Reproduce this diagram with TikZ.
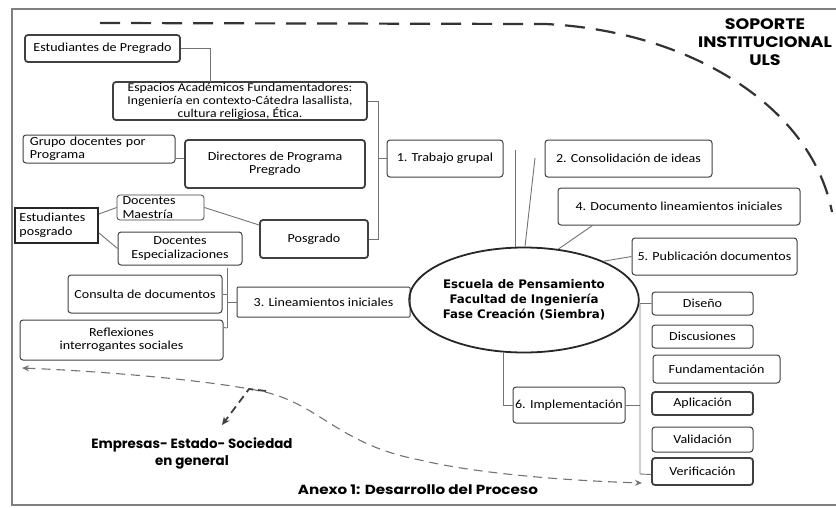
\documentclass[tikz,border=0pt]{standalone}
\usepackage{fontspec}
\setmainfont{Carlito}[FakeStretch=1.14]
\newfontfamily\labfont{Poppins}
\newfontfamily\labfontw{Poppins}[FakeStretch=1.15]
\newfontfamily\elfont{DejaVu Sans}
\usetikzlibrary{calc,arrows.meta,shapes.geometric}
\begin{document}
\begin{tikzpicture}[x=1pt,y=-1pt,
  box/.style={draw=black!75, line width=1pt, rounded corners=3pt, align=center, inner sep=1pt,
     font=\fontsize{12.3}{13.5}\selectfont},
  tbox/.style={box, line width=1.8pt},
  conn/.style={draw=black!55, line width=0.9pt},
  lab/.style={font=\labfont\bfseries\fontsize{13.4}{17}\selectfont, align=center, inner sep=0pt},
  dashbig/.style={draw=black!80, line width=2.2pt, dash pattern=on 20pt off 11pt},
  dashsmall/.style={draw=black!55, line width=1.1pt, dash pattern=on 9pt off 6pt}]
\path[use as bounding box] (0,0) rectangle (836,507);
% frame
\draw[black!50, line width=1.2pt] (836,9) -- (12,9) -- (12,505) -- (836,505);

% nodes, left part
\node[tbox, minimum width=155, minimum height=27] (estpre) at (102.5,48.5) {Estudiantes de Pregrado};
\node[tbox, minimum width=254, minimum height=38, inner sep=0pt, font=\fontsize{12}{13}\selectfont] (esp) at (240,101)
  {Espacios Académicos Fundamentadores:\\ Ingeniería en contexto-Cátedra lasallista,\\ cultura religiosa, Ética.};
\node[box, minimum width=152, minimum height=28, text width=138, align=left] (grupo) at (99,149) {Grupo docentes por\\Programa};
\node[tbox, minimum width=180, minimum height=48] (dir) at (275,164) {Directores de Programa\\ Pregrado};
\node[box, line width=0.8pt, minimum width=87, minimum height=25, text width=76, align=left] (docmae) at (160.5,207.5) {Docentes\\Maestría};
\node[draw=black!85, line width=2pt, minimum width=83, minimum height=35, text width=74, align=left, inner sep=1pt,
   font=\fontsize{12.3}{13.5}\selectfont] (estpos) at (56.5,225.5) {Estudiantes\\posgrado};
\node[box, minimum width=124, minimum height=33] (docesp) at (180,248.5) {Docentes\\Especializaciones};
\node[tbox, minimum width=108, minimum height=38] (posg) at (314,239) {Posgrado};

% numbered steps
\node[box, minimum width=116, minimum height=37] (t1) at (445,158.5) {1. Trabajo grupal};
\node[box, minimum width=167, minimum height=37] (t2) at (628.5,158.5) {2. Consolidación de ideas};
\node[box, minimum width=242, minimum height=37] (t4) at (679,206.5) {4. Documento lineamientos iniciales};
\node[box, minimum width=165, minimum height=37] (t5) at (714.5,256.5) {5. Publicación documentos};
\node[box, rounded corners=1pt, minimum width=173, minimum height=30] (t3) at (323.5,302) {3. Lineamientos iniciales};
\node[box, minimum width=154, minimum height=38] (cons) at (145,294) {Consulta de documentos};
\node[box, minimum width=203, minimum height=40] (refl) at (121.5,340) {Reflexiones\\ interrogantes sociales};

% centre ellipse
\node[ellipse, draw=black!85, line width=1.8pt, minimum width=182, minimum height=105, inner sep=0pt, align=center,
   font=\elfont\bfseries\fontsize{11.8}{15}\selectfont] (esc) at (524,300)
   {Escuela de Pensamiento\\Facultad de Ingeniería\\Fase Creación (Siembra)};

\node[box, minimum width=112, minimum height=36] (t6) at (569,405) {6. Implementación};

% right column
\node[box, minimum width=101, minimum height=23] (dis) at (702.5,303.5) {Diseño};
\node[box, minimum width=101, minimum height=23] (disc) at (702.5,336.5) {Discusiones};
\node[box, minimum width=127, minimum height=28] (fun) at (716.5,369) {Fundamentación};
\node[tbox, minimum width=101, minimum height=23] (apl) at (702.5,403.5) {Aplicación};
\node[box, minimum width=101, minimum height=25] (val) at (702.5,439.5) {Validación};
\node[tbox, minimum width=101, minimum height=27] (ver) at (702.5,471.5) {Verificación};

% labels
\node[lab, font=\labfontw\bfseries\fontsize{15.2}{18}\selectfont] (soporte) at (765,42) {SOPORTE\\INSTITUCIONAL\\ULS};
\node[lab] (emp) at (192,453) {Empresas- Estado- Sociedad\\en general};
\node[lab, font=\labfontw\bfseries\fontsize{13.2}{17}\selectfont] (anexo) at (418,490) {Anexo 1: Desarrollo del Proceso};

% connectors, left tree
\coordinate (j1) at (210,82);
\draw[conn] (estpre.east) -| (j1);
\coordinate (trA) at (378,101);
\coordinate (trB) at (378,239);
\coordinate (trC) at (378,158.5);
\draw[conn] (esp.east) -- (trA) -- (trB) -- (posg.east);
\draw[conn] (trC) -- (t1.west);
\draw[conn] ($(grupo.east)+(0,9)$) -- ($(dir.west)+(0,-6)$);
\draw[conn] ($(estpos.north east)+(0,7)$) -- (docmae.west);
\draw[conn] ($(estpos.south east)+(0,-11)$) -- (docesp.west);
\draw[conn] (docmae.east) -- ($(posg.west)+(0,-14)$);

% ellipse connectors
\coordinate (u1) at (515,150);
\coordinate (u2) at (535,158);
\draw[conn] ($(esc.north)+(-9,0.5)$) -- (u1);
\draw[conn] ($(esc.north)+(1,0)$) -- (u2);
\draw[conn] (esc.56) -- ($(t4.south west)+(35,0)$);
\draw[conn] (esc.26) -- (t5.west);
\draw[conn] (t3.east) -- (esc.west);
\draw[conn] ($(esc.south)+(-21,-1.5)$) |- (t6.west);

% lineamientos tree
\coordinate (k1) at (227,268);
\coordinate (k2) at (227,328);
\draw[conn] (k1) -- (k2);
\draw[conn] (cons.east) -- (cons.east -| k1);
\draw[conn] (t3.west) -- (t3.west -| k1);
\draw[conn] ($(refl.north east)+(0,8)$) -- (k2);

% right bracket
\coordinate (b1) at (640,305);
\coordinate (b2) at (640,474);
\draw[conn] (dis.west) -| (b2) -- ($(ver.west)+(0,3)$);
\draw[conn] (t6.east) -- (t6.east -| b1);

% dashed curves
\coordinate (c1) at (100,23);
\coordinate (c2) at (545,24);
\coordinate (c3) at (832,212);
\draw[dashbig] (c1) -- (c2) .. controls (680,30) and (810,100) .. (c3);

\coordinate (d1) at (22,368);
\coordinate (d2) at (265,392);
\coordinate (d3) at (420,460);
\coordinate (d4) at (642,483);
\draw[dashsmall, {Stealth[length=7pt,width=6pt]}-{Stealth[length=7pt,width=6pt]}]
  (d1) .. controls (120,372) and (220,382) .. (d2) .. controls (320,405) and (340,445) .. (d3)
       .. controls (470,472) and (550,480) .. (d4);
\coordinate (e1) at (266,391);
\coordinate (e2) at (249,389);
\coordinate (e3) at (222,425);
\draw[draw=black!75, line width=1.8pt, dash pattern=on 8pt off 5pt, -{Stealth[length=8pt,width=7pt]}] (e1) -- (e2) -- (e3);
\end{tikzpicture}
\end{document}
